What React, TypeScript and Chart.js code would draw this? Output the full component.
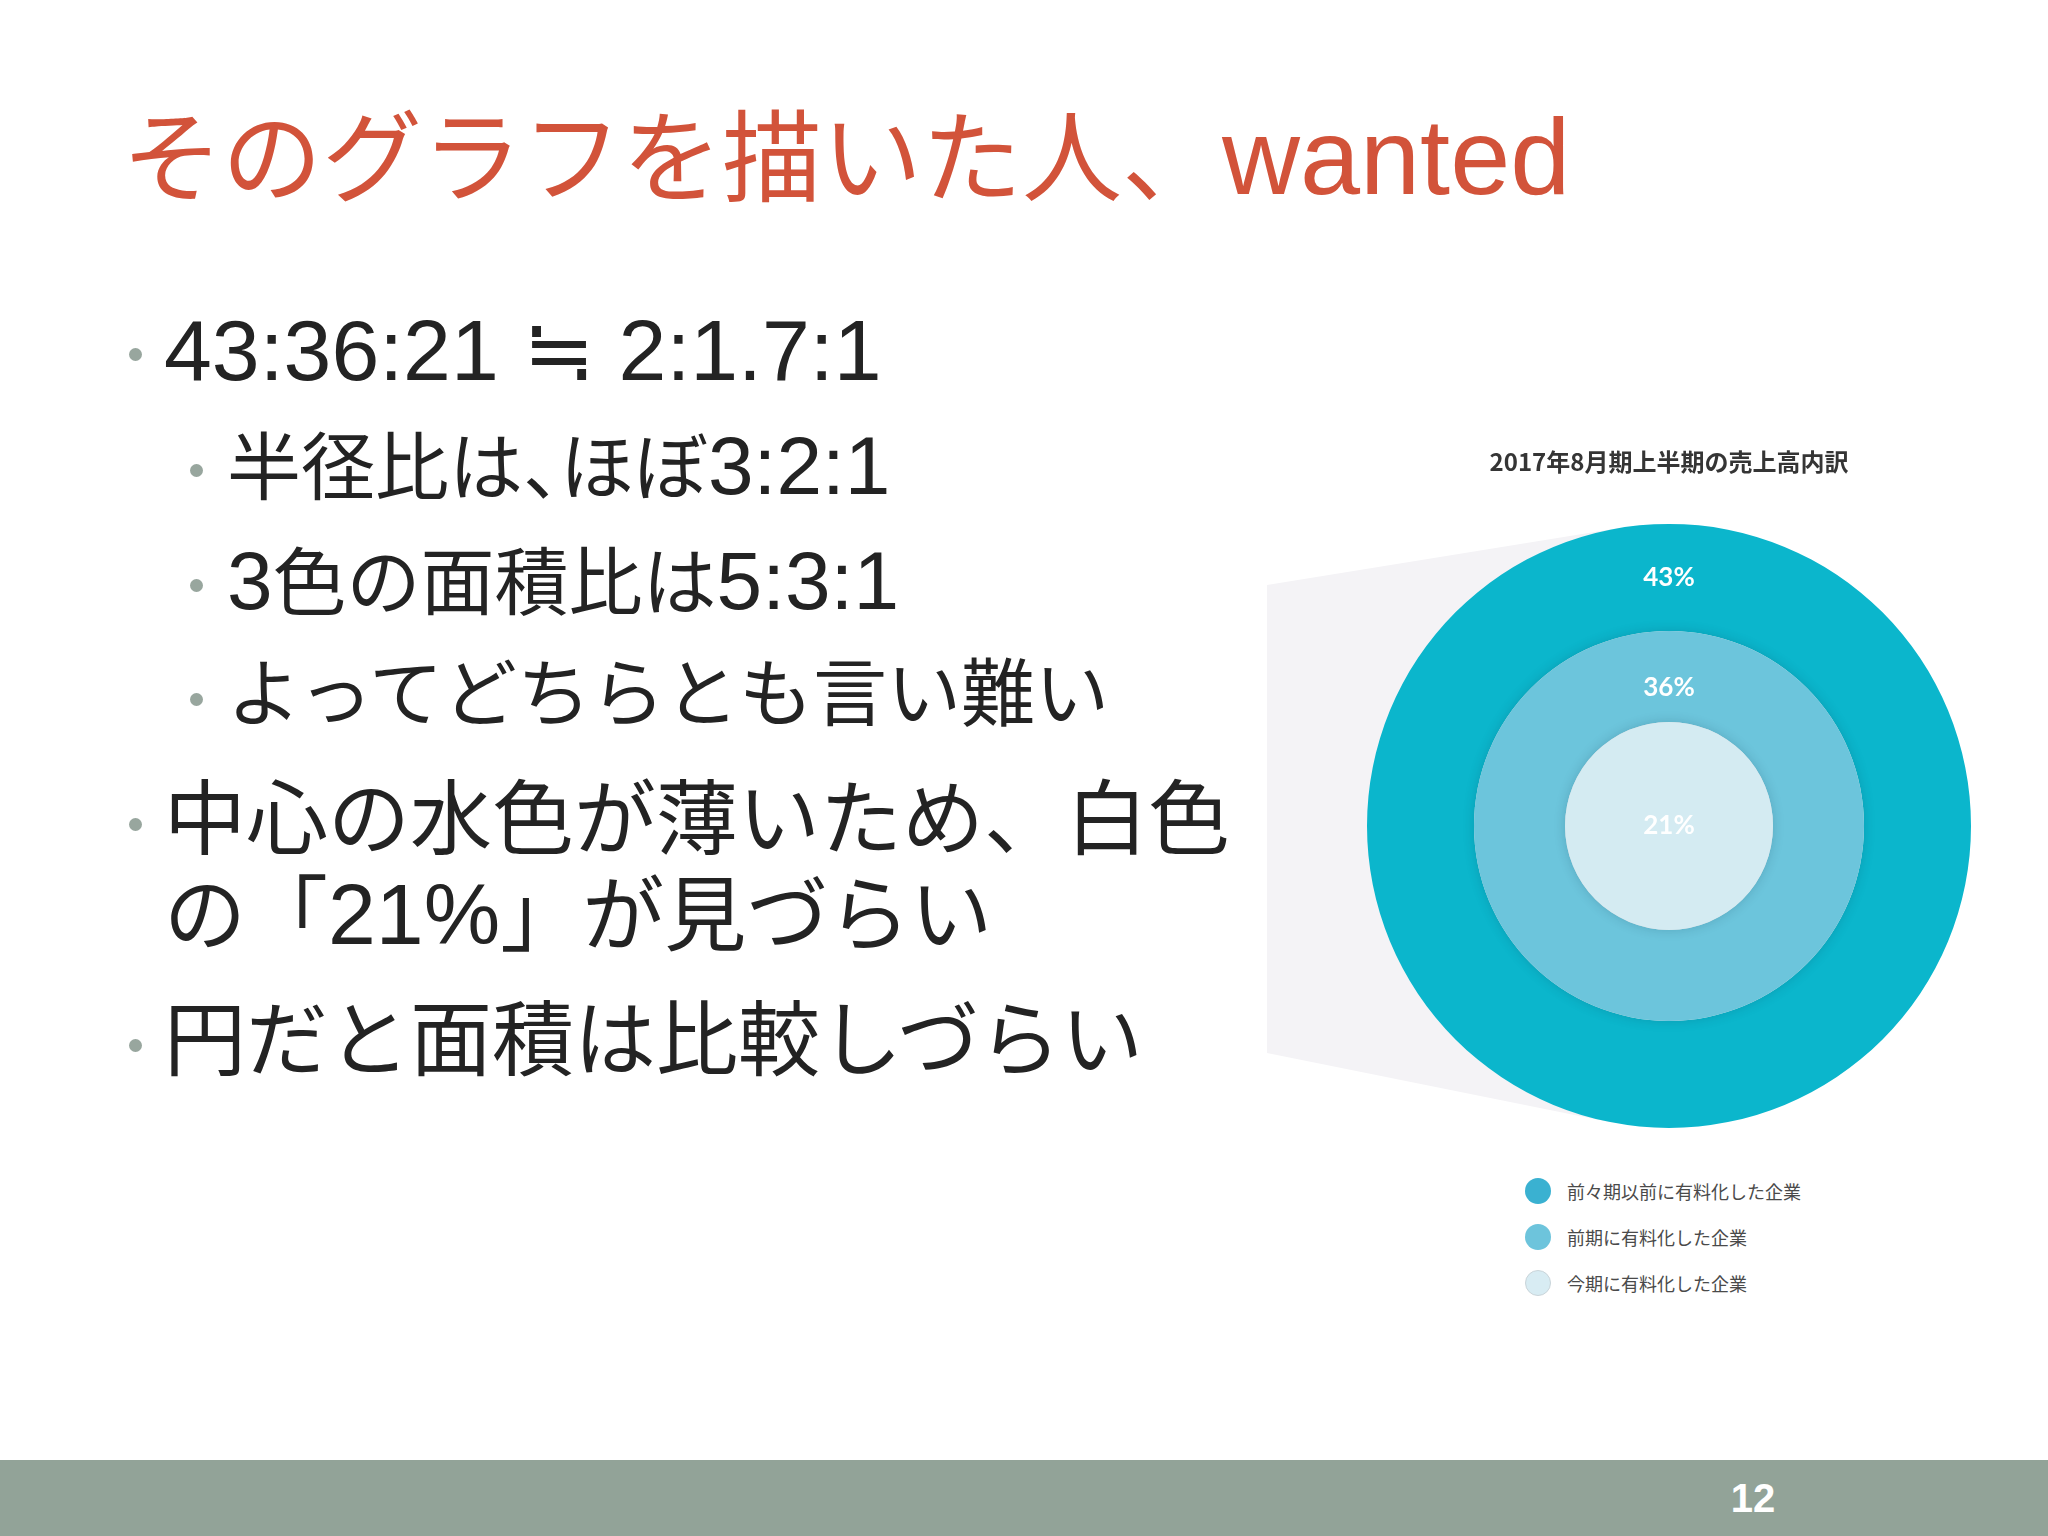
import { useEffect, useRef } from "react";
import { Chart, registerables, type ChartConfiguration, type Plugin } from "chart.js";

Chart.register(...registerables);

// chart data
const chartTitle = "2017年8月期上半期の売上高内訳";
const categories = ["前々期以前に有料化した企業", "前期に有料化した企業", "今期に有料化した企業"];
const shares = [43, 36, 21];

// slide text
const slideTitle = "そのグラフを描いた人、wanted";
const bullets: { level: number; lines: string[] }[] = [
  { level: 1, lines: ["43:36:21 ≒ 2:1.7:1"] },
  { level: 2, lines: ["半径比は、ほぼ3:2:1"] },
  { level: 2, lines: ["3色の面積比は5:3:1"] },
  { level: 2, lines: ["よってどちらとも言い難い"] },
  { level: 1, lines: ["中心の水色が薄いため、白色", "の「21%」が見づらい"] },
  { level: 1, lines: ["円だと面積は比較しづらい"] },
];
const pageNumber = "12";

const RING = ["#0bb6cc", "#6cc5dc", "#d4ebf2"];
const LEGEND_DOT = ["#3ab1d1", "#6dc4dc", "#d8ecf3"];
const RING_WEIGHT = [107, 91, 104];
const LABEL_FRAC = [0.5, 0.38, 0];
const JP = '"Liberation Sans", Arial, "Noto Sans CJK JP", sans-serif';

const shadowWedge: Plugin<"doughnut"> = {
  id: "shadowWedge",
  beforeDatasetsDraw(chart) {
    const arc: any = chart.getDatasetMeta(0).data[0];
    if (!arc) return;
    const { x: cx, y: cy, outerRadius: r } = arc;
    const ctx = chart.ctx;
    const tangent = (px: number, py: number, top: boolean) => {
      const d = Math.hypot(px - cx, py - cy);
      const base = Math.atan2(py - cy, px - cx);
      const off = Math.acos(r / d);
      const a = top ? base + off : base - off;
      return [cx + r * Math.cos(a), cy + r * Math.sin(a)];
    };
    const p1 = [27, 155], p2 = [27, 623];
    const t1 = tangent(p1[0], p1[1], true);
    const t2 = tangent(p2[0], p2[1], false);
    ctx.save();
    ctx.fillStyle = "#f4f3f6";
    ctx.beginPath();
    ctx.moveTo(p1[0], p1[1]);
    ctx.lineTo(t1[0], t1[1]);
    ctx.lineTo(cx, cy);
    ctx.lineTo(t2[0], t2[1]);
    ctx.lineTo(p2[0], p2[1]);
    ctx.closePath();
    ctx.fill();
    ctx.restore();
  },
  beforeDatasetDraw(chart, args) {
    const ctx = chart.ctx;
    ctx.save();
    if (args.index > 0) {
      ctx.shadowColor = "rgba(0,40,60,0.18)";
      ctx.shadowBlur = 12;
    }
  },
  afterDatasetDraw(chart) {
    chart.ctx.restore();
  },
};

const ringLabels: Plugin<"doughnut"> = {
  id: "ringLabels",
  afterDatasetsDraw(chart) {
    const ctx = chart.ctx;
    ctx.save();
    ctx.fillStyle = "#ffffff";
    ctx.textAlign = "center";
    ctx.textBaseline = "middle";
    ctx.font = 'bold 26px Lato, "Open Sans", sans-serif';
    chart.data.datasets.forEach((ds, i) => {
      const arc: any = chart.getDatasetMeta(i).data[0];
      if (!arc) return;
      const rr = arc.innerRadius + (arc.outerRadius - arc.innerRadius) * LABEL_FRAC[i];
      ctx.fillText(`${(ds.data as number[])[0]}%`, arc.x, arc.y - rr);
    });
    ctx.restore();
  },
};

function RingChart() {
  const ref = useRef<HTMLCanvasElement>(null);
  useEffect(() => {
    if (!ref.current) return;
    const cfg: ChartConfiguration<"doughnut"> = {
      type: "doughnut",
      data: {
        labels: [categories[0]],
        datasets: shares.map((s, i) => ({
          label: categories[i],
          data: [s],
          backgroundColor: RING[i],
          borderWidth: 0,
          weight: RING_WEIGHT[i],
          order: shares.length - i,
        })),
      },
      options: {
        responsive: false,
        animation: false,
        cutout: 0,
        layout: { padding: { left: 127, right: 77, top: 0, bottom: 22 } },
        plugins: {
          legend: { display: false },
          tooltip: { enabled: false },
          title: {
            display: true,
            text: chartTitle,
            color: "#353535",
            font: { family: '"Noto Sans CJK JP", sans-serif', size: 24, weight: "bold" },
            padding: { top: 17, bottom: 48 },
          },
        },
      },
      plugins: [shadowWedge, ringLabels],
    };
    const chart = new Chart(ref.current, cfg);
    return () => chart.destroy();
  }, []);
  return <canvas ref={ref} width={808} height={720} style={{ position: "absolute", left: 1240, top: 430 }} />;
}

// latin runs are set a bit larger than the japanese ones, as in the slide
function Runs({ text, latin, halt }: { text: string; latin: number; halt?: boolean }) {
  const parts = text.split(/([A-Za-z0-9.:%]+)/).filter(Boolean);
  return (
    <>
      {parts.map((p, i) =>
        /^[A-Za-z0-9.:%]+$/.test(p) ? (
          <span key={i} style={{ fontSize: latin }}>{p}</span>
        ) : (
          <span key={i} style={halt ? { fontFeatureSettings: '"halt"' } : undefined}>{p}</span>
        )
      )}
    </>
  );
}

export default function App() {
  const rows: { level: number; text: string; y: number; first: boolean }[] = [];
  const ys = [[350], [466], [581], [695], [820, 914], [1041]];
  bullets.forEach((b, i) => b.lines.forEach((t, j) => rows.push({ level: b.level, text: t, y: ys[i][j], first: j === 0 })));

  return (
    <div style={{ position: "absolute", left: 0, top: 0, width: 2048, height: 1536, background: "#fff", overflow: "hidden", fontFamily: JP }}>
      <div style={{ position: "absolute", left: 122, top: 106, fontSize: 100, lineHeight: "102px", color: "#d2533a", whiteSpace: "nowrap" }}>
        <Runs text={slideTitle} latin={108} />
      </div>
      {rows.map((r, i) => {
        const size = r.level === 1 ? 82 : 74;
        const bx = r.level === 1 ? 135 : 196;
        const tx = r.level === 1 ? 164 : 227;
        const isRatio = r.text.startsWith("43");
        return (
          <div key={i}>
            {r.first && (
              <div style={{ position: "absolute", left: bx - 6.5, top: r.y - 6.5 + 4, width: 13, height: 13, borderRadius: "50%", background: "#98a69e" }} />
            )}
            <div style={{ position: "absolute", left: tx, top: r.y - size / 2, fontSize: size, lineHeight: `${size}px`, color: "#232323", whiteSpace: "nowrap" }}>
              {isRatio ? (
                <span style={{ fontSize: 86 }}>{r.text}</span>
              ) : (
                <Runs text={r.text} latin={r.level === 1 ? 86 : 82} halt={r.level === 2} />
              )}
            </div>
          </div>
        );
      })}
      <RingChart />
      {categories.map((c, i) => (
        <div key={c}>
          <div style={{ position: "absolute", left: 1525, top: 1191 + i * 46 - 13, width: 26, height: 26, boxSizing: "border-box", borderRadius: "50%", background: LEGEND_DOT[i], border: i === 2 ? "1px solid #c9d4d9" : "none" }} />
          <div style={{ position: "absolute", left: 1567, top: 1191 + i * 46 - 12, fontSize: 18, lineHeight: "24px", color: "#4a4a4a", fontFamily: '"Noto Sans CJK JP", sans-serif', whiteSpace: "nowrap" }}>
            {c}
          </div>
        </div>
      ))}
      <div style={{ position: "absolute", left: 0, top: 1460, width: 2048, height: 76, background: "#92a398" }}>
        <div style={{ position: "absolute", left: 1753 - 40, width: 80, top: 18, textAlign: "center", fontSize: 40, lineHeight: "40px", fontWeight: "bold", color: "#fff", fontFamily: '"Liberation Sans Narrow", "Liberation Sans", Arial, sans-serif' }}>
          {pageNumber}
        </div>
      </div>
    </div>
  );
}
